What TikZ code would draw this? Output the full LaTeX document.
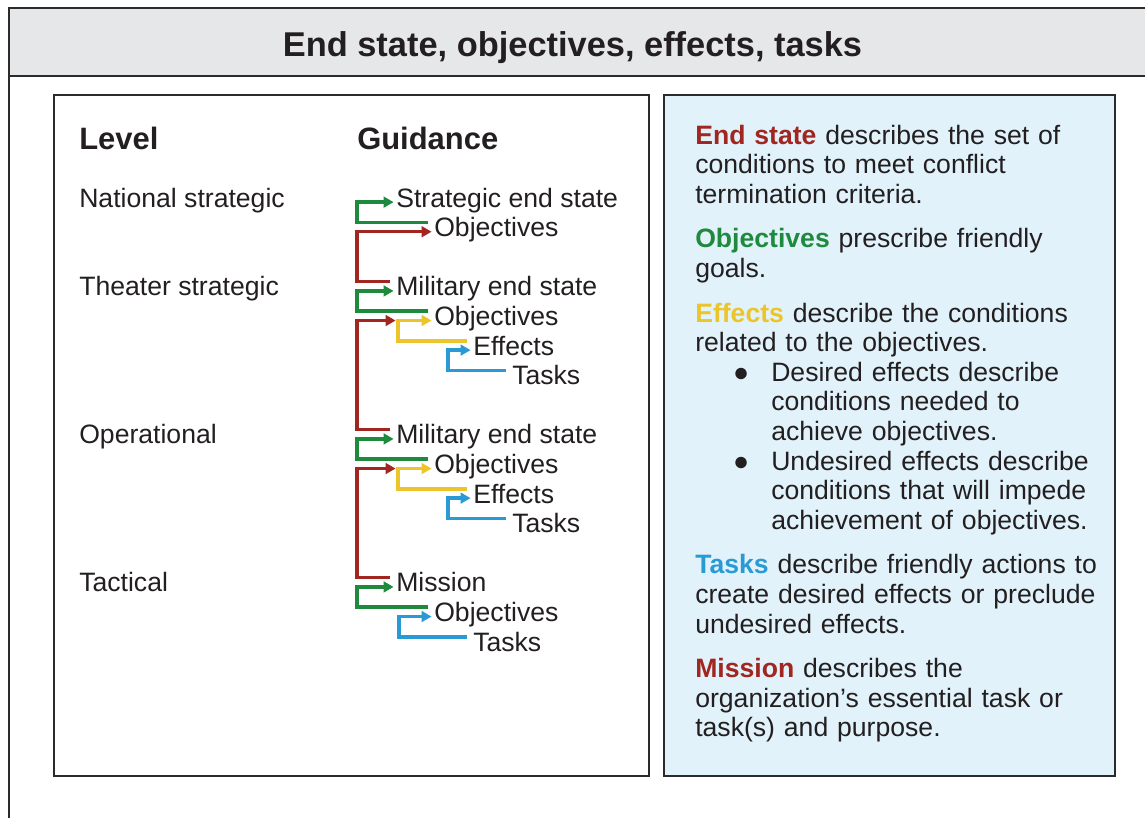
\documentclass[tikz,border=0pt]{standalone}
\usepackage{fontspec}
\setmainfont{Liberation Sans}
\usetikzlibrary{arrows.meta}
\definecolor{lineclr}{HTML}{2B2B2B}
\definecolor{bandgray}{HTML}{E6E7E8}
\definecolor{paneblue}{HTML}{E1F2FB}
\definecolor{txtblack}{HTML}{231F20}
\definecolor{esred}{HTML}{A0261F}
\definecolor{obgreen}{HTML}{1F8A3E}
\definecolor{efyellow}{HTML}{EBC52A}
\definecolor{tkblue}{HTML}{2A9AD4}
\newcommand\bodyfont{\fontsize{19.95pt}{22.2pt}\selectfont}
\newcommand\headfont{\fontsize{23.2pt}{26pt}\selectfont\bfseries}
\newcommand\titlefont{\fontsize{25.8pt}{30pt}\selectfont\bfseries}
\newcommand\bulitem{\hspace*{34.5pt}\makebox[0pt]{●}\hspace*{22.5pt}}
\newcommand\bulcont{\hspace*{57pt}}
\begin{document}
\begin{tikzpicture}[x=0.75pt,y=-0.75pt,
   box/.style={draw=lineclr,line width=1.7pt},
   hd/.style={anchor=base west,inner sep=0pt,font=\headfont,text=txtblack},
   lvl/.style={anchor=base west,inner sep=0pt,font=\bodyfont,text=txtblack},
   gd/.style={anchor=base west,inner sep=0pt,text height=14.3pt,text depth=0pt,font=\bodyfont,text=txtblack},
   desc/.style={anchor=base west,inner sep=0pt,text width=315pt,align=left,font=\bodyfont,text=txtblack},
   link/.style={line width=2.6pt,-{Triangle[length=7.5pt,width=8pt]},shorten >=1.8pt,shorten <=4.5pt},
   rd/.style={esred},
   grn/.style={obgreen},
   ylw/.style={efyellow},
   blu/.style={tkblue}]
   \useasboundingbox (0,0) rectangle (1145,817);
   \clip (0,0) rectangle (1145,817);

   \draw[box] (9,8) rectangle (1170,840);
   \draw[box,fill=bandgray] (9,8) rectangle (1170,76);
   \node[anchor=base,inner sep=0pt,font=\titlefont,text=txtblack] (title) at (572.5,57) {End state, objectives, effects, tasks};

   \draw[box] (54,95) rectangle (649,776);
   \draw[box,fill=paneblue] (664,95) rectangle (1115,776);

   \node[hd] (hdLevel) at (79,149) {Level};
   \node[hd] (hdGuide) at (357,149) {Guidance};

   \node[lvl] (lvlNS) at (79,207) {National strategic};
   \node[lvl] (lvlTS) at (79,295.8) {Theater strategic};
   \node[lvl] (lvlOP) at (79,443.8) {Operational};
   \node[lvl] (lvlTA) at (79,591.8) {Tactical};

   \node[gd] (endNS) at (396,207) {Strategic end state};
   \node[gd] (objNS) at (434,236.6) {Objectives};
   \node[gd] (endTS) at (396,295.8) {Military end state};
   \node[gd] (objTS) at (434,325.4) {Objectives};
   \node[gd] (effTS) at (473,355) {Effects};
   \node[gd] (tskTS) at (512,384.6) {Tasks};
   \node[gd] (endOP) at (396,443.8) {Military end state};
   \node[gd] (objOP) at (434,473.4) {Objectives};
   \node[gd] (effOP) at (473,503) {Effects};
   \node[gd] (tskOP) at (512,532.6) {Tasks};
   \node[gd] (misTA) at (396,591.8) {Mission};
   \node[gd] (objTA) at (434,621.4) {Objectives};
   \node[gd] (tskTA) at (473,651) {Tasks};

   \draw[link,grn] ([yshift=3.5pt]objNS.west) -| ([xshift=-29.25pt,yshift=-3.5pt]endNS.west) -- ([yshift=-3.5pt]endNS.west);
   \draw[link,rd] ([yshift=3.5pt]endTS.west) -| ([xshift=-57.75pt,yshift=-3.5pt]objNS.west) -- ([yshift=-3.5pt]objNS.west);

   \draw[link,grn] ([yshift=3.5pt]objTS.west) -| ([xshift=-29.25pt,yshift=-3.5pt]endTS.west) -- ([yshift=-3.5pt]endTS.west);
   \draw[link,ylw] ([yshift=3.5pt]effTS.west) -| ([xshift=-27pt,yshift=-3.5pt]objTS.west) -- ([yshift=-3.5pt]objTS.west);
   \draw[link,blu] ([yshift=3.5pt]tskTS.west) -| ([xshift=-18.75pt,yshift=-3.5pt]effTS.west) -- ([yshift=-3.5pt]effTS.west);
   \draw[link,rd] ([yshift=3.5pt]endOP.west) -| ([xshift=-57.75pt,yshift=-3.5pt]objTS.west) -- ([xshift=-27pt,yshift=-3.5pt]objTS.west);

   \draw[link,grn] ([yshift=3.5pt]objOP.west) -| ([xshift=-29.25pt,yshift=-3.5pt]endOP.west) -- ([yshift=-3.5pt]endOP.west);
   \draw[link,ylw] ([yshift=3.5pt]effOP.west) -| ([xshift=-27pt,yshift=-3.5pt]objOP.west) -- ([yshift=-3.5pt]objOP.west);
   \draw[link,blu] ([yshift=3.5pt]tskOP.west) -| ([xshift=-18.75pt,yshift=-3.5pt]effOP.west) -- ([yshift=-3.5pt]effOP.west);
   \draw[link,rd] ([yshift=3.5pt]misTA.west) -| ([xshift=-57.75pt,yshift=-3.5pt]objOP.west) -- ([xshift=-27pt,yshift=-3.5pt]objOP.west);

   \draw[link,grn] ([yshift=3.5pt]objTA.west) -| ([xshift=-29.25pt,yshift=-3.5pt]misTA.west) -- ([yshift=-3.5pt]misTA.west);
   \draw[link,blu] ([yshift=3.5pt]tskTA.west) -| ([xshift=-26.25pt,yshift=-3.5pt]objTA.west) -- ([yshift=-3.5pt]objTA.west);

   \node[desc] (descText) at (695,144) {%
      {\color{esred}\bfseries End state} describes the set of\\
      conditions to meet conflict\\
      termination criteria.\\[11.25pt]
      {\color{obgreen}\bfseries Objectives} prescribe friendly\\
      goals.\\[11.25pt]
      {\color{efyellow}\bfseries Effects} describe the conditions\\
      related to the objectives.\\
      \bulitem Desired effects describe\\
      \bulcont conditions needed to\\
      \bulcont achieve objectives.\\
      \bulitem Undesired effects describe\\
      \bulcont conditions that will impede\\
      \bulcont achievement of objectives.\\[11.25pt]
      {\color{tkblue}\bfseries Tasks} describe friendly actions to\\
      create desired effects or preclude\\
      undesired effects.\\[11.25pt]
      {\color{esred}\bfseries Mission} describes the\\
      organization’s essential task or\\
      task(s) and purpose.};
\end{tikzpicture}
\end{document}
